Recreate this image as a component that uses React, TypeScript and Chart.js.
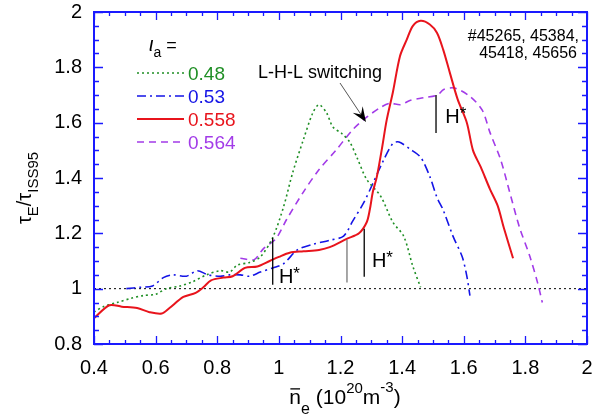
import React, { useEffect, useRef } from "react";
import { Chart, registerables } from "chart.js";
Chart.register(...registerables);

// ---------- data ----------
const xTickLabels = ["0.4", "0.6", "0.8", "1", "1.2", "1.4", "1.6", "1.8", "2"];
const yTickLabels = ["0.8", "1", "1.2", "1.4", "1.6", "1.8", "2"];
const seriesLabels = ["0.48", "0.53", "0.558", "0.564"];

const x048 = [0.40, 0.43, 0.475, 0.52, 0.56, 0.60, 0.635, 0.68, 0.72, 0.765, 0.81, 0.84, 0.865, 0.905, 0.94, 0.98, 1.015, 1.045, 1.08, 1.11, 1.13, 1.155, 1.175, 1.205, 1.23, 1.255, 1.285, 1.33, 1.37, 1.405, 1.435, 1.46];
const y048 = [0.915, 0.935, 0.95, 0.965, 0.975, 0.98, 1.0, 1.01, 1.025, 1.05, 1.065, 1.06, 1.085, 1.095, 1.115, 1.185, 1.295, 1.42, 1.54, 1.635, 1.665, 1.635, 1.585, 1.56, 1.53, 1.47, 1.395, 1.335, 1.24, 1.19, 1.08, 1.005];

const x053 = [0.505, 0.55, 0.59, 0.625, 0.655, 0.70, 0.735, 0.77, 0.81, 0.84, 0.875, 0.905, 0.94, 0.98, 1.015, 1.06, 1.11, 1.165, 1.21, 1.24, 1.275, 1.305, 1.34, 1.37, 1.39, 1.425, 1.46, 1.49, 1.513, 1.533, 1.565, 1.595, 1.61, 1.62];
const y053 = [1.0, 1.005, 1.01, 1.04, 1.05, 1.045, 1.065, 1.05, 1.045, 1.05, 1.05, 1.045, 1.06, 1.075, 1.09, 1.14, 1.16, 1.175, 1.19, 1.245, 1.31, 1.38, 1.465, 1.525, 1.53, 1.505, 1.475, 1.405, 1.33, 1.285, 1.19, 1.115, 1.045, 0.975];

const x0558 = [0.40, 0.45, 0.49, 0.54, 0.58, 0.62, 0.645, 0.69, 0.73, 0.755, 0.78, 0.82, 0.85, 0.89, 0.93, 0.97, 1.00, 1.035, 1.08, 1.13, 1.165, 1.22, 1.26, 1.285, 1.295, 1.305, 1.318, 1.335, 1.35, 1.37, 1.393, 1.415, 1.435, 1.46, 1.49, 1.513, 1.533, 1.555, 1.58, 1.61, 1.63, 1.655, 1.685, 1.71, 1.73, 1.76];
const y0558 = [0.893, 0.94, 0.935, 0.93, 0.915, 0.91, 0.93, 0.97, 0.985, 1.005, 1.03, 1.04, 1.045, 1.075, 1.08, 1.10, 1.115, 1.13, 1.135, 1.14, 1.15, 1.18, 1.20, 1.24, 1.285, 1.35, 1.405, 1.51, 1.61, 1.71, 1.84, 1.90, 1.95, 1.968, 1.955, 1.925, 1.865, 1.78, 1.685, 1.60, 1.50, 1.44, 1.36, 1.30, 1.22, 1.11];

const x0564 = [0.875, 0.92, 0.95, 0.99, 1.025, 1.08, 1.13, 1.185, 1.24, 1.285, 1.33, 1.36, 1.395, 1.425, 1.47, 1.515, 1.535, 1.57, 1.62, 1.66, 1.685, 1.72, 1.75, 1.78, 1.815, 1.84, 1.855];
const y0564 = [1.11, 1.105, 1.145, 1.18, 1.25, 1.35, 1.43, 1.50, 1.575, 1.62, 1.655, 1.67, 1.665, 1.68, 1.69, 1.70, 1.72, 1.725, 1.695, 1.645, 1.565, 1.465, 1.345, 1.225, 1.115, 1.02, 0.95];

// H* marker lines (data coords): x, yTop, yBottom
const hStarX = [0.98, 1.221, 1.277, 1.51];
const hStarTop = [1.184, 1.177, 1.217, 1.70];
const hStarBottom = [1.014, 1.022, 1.043, 1.563];
const hStarGray = [false, true, false, false];
const hStarLabelX = [1.0, -1, 1.302, 1.54];
const hStarLabelY = [1.02, -1, 1.08, 1.60];

const shotText = ["#45265, 45384,", "45418, 45656"];
const arrowText = "L-H-L switching";

const COLORS = ["#1f8f25", "#1414e6", "#e8141c", "#a23be8"];
const DASHES = [[2, 3], [9, 4, 2, 4], [], [7, 5]];
const WIDTHS = [1.6, 1.6, 2, 1.6];
const FONT = "'Liberation Sans', Arial, sans-serif";
const AXIS_BLUE = "#1a1aff";

type Seg = { t: string; size: number; dy?: number; italic?: boolean; over?: boolean };

function segWidth(ctx: CanvasRenderingContext2D, segs: Seg[]) {
  let w = 0;
  for (const s of segs) {
    ctx.font = `${s.italic ? "italic " : ""}${s.size}px ${FONT}`;
    w += ctx.measureText(s.t).width;
  }
  return w;
}

function drawRich(ctx: CanvasRenderingContext2D, x: number, y: number, segs: Seg[], align: "left" | "center" | "right", color = "#000") {
  const total = segWidth(ctx, segs);
  let cx = align === "left" ? x : align === "center" ? x - total / 2 : x - total;
  ctx.textAlign = "left";
  ctx.textBaseline = "alphabetic";
  ctx.fillStyle = color;
  ctx.strokeStyle = color;
  for (const s of segs) {
    ctx.font = `${s.italic ? "italic " : ""}${s.size}px ${FONT}`;
    const w = ctx.measureText(s.t).width;
    ctx.fillText(s.t, cx, y + (s.dy || 0));
    if (s.over) {
      ctx.lineWidth = 1.3;
      ctx.beginPath();
      ctx.moveTo(cx + 1, y + (s.dy || 0) - s.size * 0.72);
      ctx.lineTo(cx + w - 1, y + (s.dy || 0) - s.size * 0.72);
      ctx.stroke();
    }
    cx += w;
  }
}

const framePlugin = {
  id: "framePlugin",
  beforeDatasetsDraw(chart: any) {
    const { ctx, chartArea: a, scales } = chart;
    const y1 = scales.y.getPixelForValue(1);
    ctx.save();
    ctx.strokeStyle = "#000";
    ctx.lineWidth = 1;
    ctx.setLineDash([2, 3]);
    ctx.beginPath();
    ctx.moveTo(a.left, y1);
    ctx.lineTo(a.right, y1);
    ctx.stroke();
    ctx.restore();
  },
  afterDraw(chart: any) {
    const { ctx, chartArea: a, scales } = chart;
    const xs = scales.x, ys = scales.y;
    ctx.save();
    ctx.setLineDash([]);
    // ticks
    ctx.strokeStyle = AXIS_BLUE;
    ctx.lineWidth = 1.3;
    for (let i = 0; i <= 32; i++) {
      const v = 0.4 + i * 0.05;
      const px = Math.round(xs.getPixelForValue(v)) + 0.5;
      const len = i % 4 === 0 ? 8 : 4;
      ctx.beginPath();
      ctx.moveTo(px, a.bottom);
      ctx.lineTo(px, a.bottom - len);
      ctx.moveTo(px, a.top);
      ctx.lineTo(px, a.top + len);
      ctx.stroke();
    }
    for (let i = 0; i <= 24; i++) {
      const v = 0.8 + i * 0.05;
      const py = Math.round(ys.getPixelForValue(v)) + 0.5;
      const len = i % 4 === 0 ? 9 : 5;
      ctx.beginPath();
      ctx.moveTo(a.left, py);
      ctx.lineTo(a.left + len, py);
      ctx.moveTo(a.right, py);
      ctx.lineTo(a.right - len, py);
      ctx.stroke();
    }
    // frame
    ctx.lineWidth = 2;
    ctx.strokeRect(a.left, a.top, a.right - a.left, a.bottom - a.top);

    // H* lines
    for (let i = 0; i < hStarX.length; i++) {
      const px = xs.getPixelForValue(hStarX[i]);
      ctx.strokeStyle = hStarGray[i] ? "#777" : "#000";
      ctx.lineWidth = 1.3;
      ctx.beginPath();
      ctx.moveTo(px, ys.getPixelForValue(hStarTop[i]));
      ctx.lineTo(px, ys.getPixelForValue(hStarBottom[i]));
      ctx.stroke();
      if (hStarLabelX[i] > 0) {
        drawRich(ctx, xs.getPixelForValue(hStarLabelX[i]), ys.getPixelForValue(hStarLabelY[i]),
          [{ t: "H", size: 20 }, { t: "*", size: 17, dy: -4 }], "left");
      }
    }

    // legend
    const legY = [73, 96, 119, 142];
    for (let i = 0; i < 4; i++) {
      ctx.strokeStyle = COLORS[i];
      ctx.lineWidth = WIDTHS[i];
      ctx.setLineDash(DASHES[i]);
      ctx.beginPath();
      ctx.moveTo(137, legY[i]);
      ctx.lineTo(184, legY[i]);
      ctx.stroke();
      ctx.setLineDash([]);
      drawRich(ctx, 188, legY[i] + 7, [{ t: seriesLabels[i], size: 19 }], "left", COLORS[i]);
    }
    drawRich(ctx, 149, 51, [{ t: "ι", size: 20, italic: true }, { t: "a", size: 14, dy: 6 }, { t: " =", size: 18 }], "left");

    // shot numbers
    drawRich(ctx, 579, 41, [{ t: shotText[0], size: 16 }], "right");
    drawRich(ctx, 577, 58, [{ t: shotText[1], size: 16 }], "right");

    // L-H-L switching + arrow
    drawRich(ctx, 320, 78, [{ t: arrowText, size: 18 }], "center");
    const x0 = 340, y0 = 83, x1 = 366, y1 = 122;
    ctx.strokeStyle = "#555";
    ctx.lineWidth = 1;
    ctx.beginPath();
    ctx.moveTo(x0, y0);
    ctx.lineTo(x1 - 4, y1 - 6);
    ctx.stroke();
    const ang = Math.atan2(y1 - y0, x1 - x0);
    const L = 15, W = 6;
    ctx.fillStyle = "#000";
    ctx.beginPath();
    ctx.moveTo(x1, y1);
    ctx.lineTo(x1 - L * Math.cos(ang) + W * Math.sin(ang), y1 - L * Math.sin(ang) - W * Math.cos(ang));
    ctx.lineTo(x1 - 0.6 * L * Math.cos(ang), y1 - 0.6 * L * Math.sin(ang));
    ctx.lineTo(x1 - L * Math.cos(ang) - W * Math.sin(ang), y1 - L * Math.sin(ang) + W * Math.cos(ang));
    ctx.closePath();
    ctx.fill();

    // axis titles
    drawRich(ctx, 345, 404, [
      { t: "n", size: 21, over: true },
      { t: "e", size: 16, dy: 10 },
      { t: " (10", size: 21 },
      { t: "20", size: 15, dy: -11 },
      { t: "m", size: 21 },
      { t: "-3", size: 15, dy: -12 },
      { t: ")", size: 21 },
    ], "center");

    ctx.save();
    ctx.translate(31, 188);
    ctx.rotate(-Math.PI / 2);
    drawRich(ctx, 0, 0, [
      { t: "τ", size: 20 },
      { t: "E", size: 15, dy: 7 },
      { t: "/τ", size: 20 },
      { t: "ISS95", size: 15, dy: 7 },
    ], "center");
    ctx.restore();
    ctx.restore();
  },
};

function pts(xs: number[], ys: number[]) {
  return xs.map((x, i) => ({ x, y: ys[i] }));
}

export default function App() {
  const ref = useRef<HTMLCanvasElement | null>(null);
  useEffect(() => {
    if (!ref.current) return;
    const xsArr = [x048, x053, x0558, x0564];
    const ysArr = [y048, y053, y0558, y0564];
    const chart = new Chart(ref.current, {
      type: "line",
      data: {
        datasets: seriesLabels.map((lab, i) => ({
          label: lab,
          data: pts(xsArr[i], ysArr[i]),
          borderColor: COLORS[i],
          borderWidth: WIDTHS[i],
          borderDash: DASHES[i],
          pointRadius: 0,
          tension: 0.3,
          fill: false,
          order: i === 2 ? 0 : 1,
        })),
      },
      options: {
        responsive: false,
        animation: false,
        layout: { padding: { left: 0, top: 12, right: 18, bottom: 0 } },
        plugins: { legend: { display: false }, tooltip: { enabled: false } },
        scales: {
          x: {
            type: "linear",
            min: 0.4,
            max: 2,
            grid: { display: false, drawTicks: false },
            border: { display: false },
            ticks: {
              stepSize: 0.2,
              padding: 12,
              color: "#000",
              font: { size: 20, family: FONT },
              maxRotation: 0,
              autoSkip: false,
              callback: (v: any) => {
                const idx = Math.round((Number(v) - 0.4) / 0.2);
                return xTickLabels[idx] ?? "";
              },
            },
            afterFit: (s: any) => { s.height = 75; s.paddingLeft = 0; s.paddingRight = 0; },
          },
          y: {
            type: "linear",
            min: 0.8,
            max: 2,
            grid: { display: false, drawTicks: false },
            border: { display: false },
            ticks: {
              stepSize: 0.2,
              padding: 12,
              color: "#000",
              font: { size: 20, family: FONT },
              autoSkip: false,
              callback: (v: any) => {
                const idx = Math.round((Number(v) - 0.8) / 0.2);
                return yTickLabels[idx] ?? "";
              },
            },
            afterFit: (s: any) => { s.width = 94; s.paddingTop = 0; s.paddingBottom = 0; },
          },
        },
      },
      plugins: [framePlugin],
    } as any);
    return () => chart.destroy();
  }, []);
  return (
    <div style={{ position: "absolute", left: 0, top: 0, width: 605, height: 419, background: "#fff" }}>
      <canvas ref={ref} width={605} height={419} style={{ display: "block" }} />
    </div>
  );
}
